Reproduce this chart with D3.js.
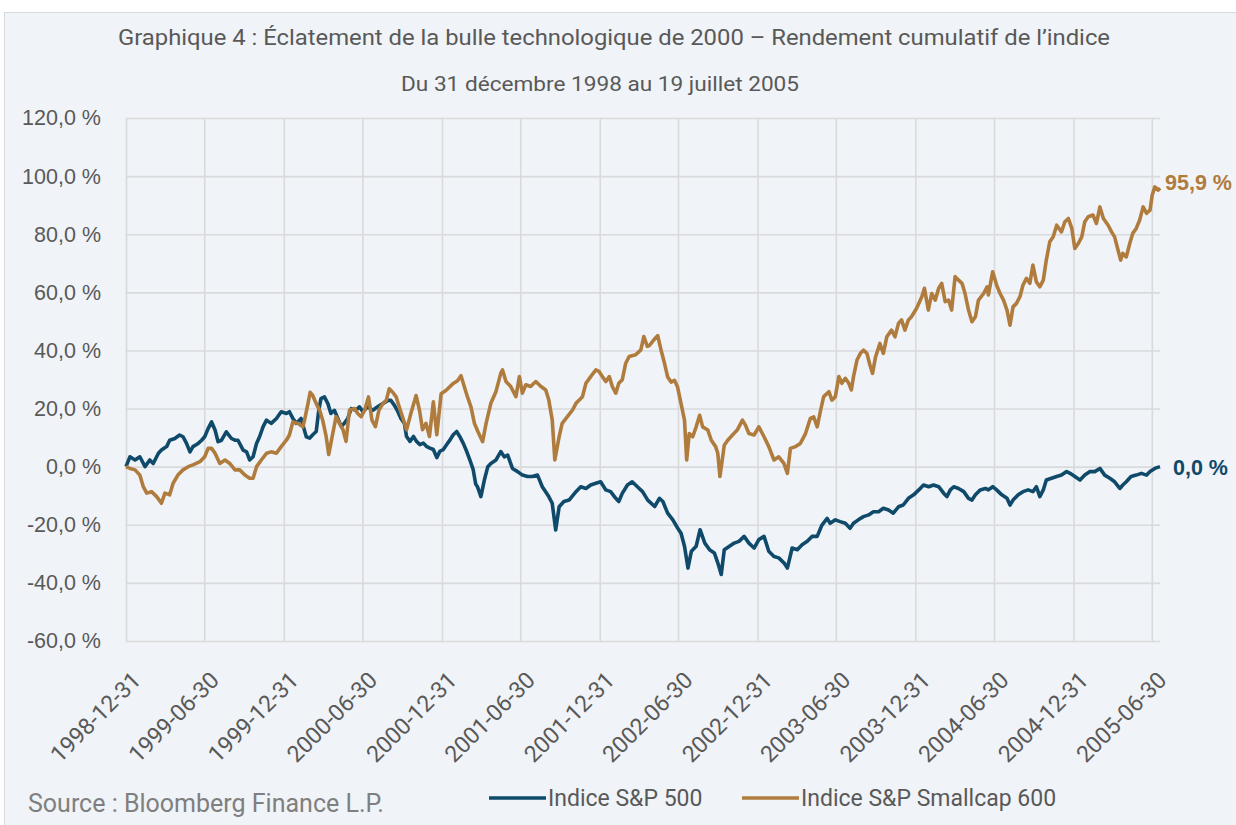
<!DOCTYPE html>
<html>
<head>
<meta charset="utf-8">
<script src="https://cdn.jsdelivr.net/npm/d3@7"></script>
<style>
  body { margin: 0; background: #fff; }
  svg { display: block; }
  text { font-family: Roboto, "Liberation Sans", sans-serif; }
</style>
</head>
<body>
<div id="chart"></div>
<script>
// cumulative return, in %
var spxDates = ["1998-12-31","1999-01-09","1999-01-21","1999-02-01","1999-02-13","1999-02-24","1999-03-04","1999-03-16","1999-03-23","1999-04-04","1999-04-11","1999-04-23","1999-05-04","1999-05-12","1999-05-20","1999-05-28","1999-06-04","1999-06-16","1999-06-24","1999-07-01","1999-07-09","1999-07-17","1999-07-25","1999-08-01","1999-08-09","1999-08-20","1999-09-01","1999-09-09","1999-09-16","1999-09-28","1999-10-06","1999-10-13","1999-10-21","1999-10-29","1999-11-05","1999-11-13","1999-11-21","1999-12-02","1999-12-14","1999-12-25",
"2000-01-06","2000-01-13","2000-01-21","2000-01-29","2000-02-09","2000-02-21","2000-02-29","2000-03-07","2000-03-15","2000-03-21","2000-03-26","2000-04-03","2000-04-11","2000-04-18","2000-04-26","2000-05-04","2000-05-12","2000-05-19","2000-05-27","2000-06-04","2000-06-15","2000-06-23","2000-07-01","2000-07-12","2000-07-24","2000-08-04","2000-08-16","2000-08-28","2000-09-04","2000-09-12","2000-09-20","2000-09-27","2000-10-05","2000-10-10","2000-10-18","2000-10-26","2000-11-02","2000-11-10","2000-11-18","2000-11-25","2000-12-03","2000-12-11","2000-12-19","2000-12-26",
"2001-01-03","2001-01-11","2001-01-19","2001-01-26","2001-02-03","2001-02-10","2001-02-18","2001-02-26","2001-03-05","2001-03-13","2001-03-19","2001-03-23","2001-03-31","2001-04-08","2001-04-16","2001-04-23","2001-05-05","2001-05-16","2001-05-24","2001-06-01","2001-06-12","2001-06-24","2001-07-05","2001-07-17","2001-07-28","2001-08-09","2001-08-20","2001-09-04","2001-09-12","2001-09-20","2001-09-28","2001-10-09","2001-10-21","2001-11-06","2001-11-17","2001-11-29","2001-12-10","2001-12-22",
"2002-01-02","2002-01-14","2002-01-25","2002-02-06","2002-02-13","2002-02-21","2002-03-05","2002-03-16","2002-03-28","2002-04-09","2002-04-21","2002-05-07","2002-05-18","2002-05-26","2002-06-06","2002-06-18","2002-06-29","2002-07-07","2002-07-15","2002-07-23","2002-07-31","2002-08-11","2002-08-20","2002-08-31","2002-09-11","2002-09-22","2002-09-30","2002-10-08","2002-10-15","2002-10-27","2002-11-07","2002-11-18","2002-11-30","2002-12-11","2002-12-23",
"2003-01-03","2003-01-15","2003-01-26","2003-02-07","2003-02-18","2003-03-02","2003-03-10","2003-03-21","2003-04-02","2003-04-13","2003-04-25","2003-05-06","2003-05-18","2003-05-29","2003-06-10","2003-06-17","2003-06-29","2003-07-10","2003-07-22","2003-08-02","2003-08-10","2003-08-21","2003-09-02","2003-09-14","2003-09-25","2003-10-07","2003-10-18","2003-10-30","2003-11-10","2003-11-22","2003-12-03","2003-12-15","2003-12-27",
"2004-01-08","2004-01-19","2004-01-31","2004-02-11","2004-02-23","2004-03-06","2004-03-13","2004-03-21","2004-03-29","2004-04-09","2004-04-21","2004-05-02","2004-05-10","2004-05-18","2004-05-29","2004-06-10","2004-06-17","2004-06-27","2004-07-06","2004-07-18","2004-07-30","2004-08-06","2004-08-13","2004-08-25","2004-09-05","2004-09-17","2004-09-28","2004-10-06","2004-10-14","2004-10-22","2004-10-29","2004-11-10","2004-11-22","2004-12-03","2004-12-15","2004-12-23",
"2005-01-03","2005-01-15","2005-01-26","2005-02-07","2005-02-18","2005-03-02","2005-03-13","2005-03-25","2005-04-05","2005-04-17","2005-04-24","2005-05-02","2005-05-13","2005-05-25","2005-06-06","2005-06-18","2005-06-26","2005-07-07","2005-07-19"];
var spxValues = [0,3.4,2.3,3.4,0,2.3,1.1,4.6,5.7,6.9,9.1,9.7,10.9,10.3,8,5.1,6.9,8,9.1,10.3,13.1,15.4,12.6,8.6,9.1,12,9.7,9.1,9.1,5.7,5.1,2.3,3.4,8,10.3,13.7,16,14.9,16.6,18.9,
18.3,18.9,16.6,14.9,16.6,10.3,9.8,11,12.1,19.4,23.4,24,21.7,18.3,19.4,16.6,13.8,14.9,16.6,20,19.4,20.6,18.9,20.6,19.4,20.6,21.7,22.8,22.8,21.1,18.9,16.6,14.9,10.4,8.7,10.4,8.7,7.6,8.1,7,6.4,5.9,3.1,5.3,
5.9,7.6,9.3,11,12.1,10.4,8.1,5.3,2.5,-0.9,-6,-6.9,-10.3,-4.6,0,1.1,2.3,5.2,3.4,4,-0.6,-1.7,-2.9,-3.4,-3.4,-2.9,-6.9,-10.3,-12.6,-21.8,-13.8,-12,-11.5,-8.6,-6.9,-7.5,-6.3,-5.7,
-5.2,-8,-8.6,-10.9,-12,-9.2,-6.3,-5.2,-6.9,-8.6,-11.5,-13.7,-10.9,-12,-16,-18.3,-21.1,-22.9,-27.4,-34.9,-29.1,-27.4,-21.7,-26.3,-28.6,-29.7,-33.1,-37.1,-28.6,-27.4,-26.3,-25.7,-24,-26.3,-28,
-25.1,-24,-29.1,-30.9,-31.4,-33.1,-34.9,-28,-28.6,-26.9,-25.7,-24,-24,-20.1,-17.8,-19.5,-18.3,-18.9,-19.5,-21.2,-19.5,-18.3,-17.2,-16.6,-15.5,-15.5,-14.3,-14.9,-16,-13.8,-13.2,-10.9,-9.7,
-8,-6.3,-6.9,-6.3,-6.9,-9.2,-10.3,-8,-6.9,-7.5,-8.6,-10.9,-11.5,-9.7,-8,-7.5,-8,-6.9,-8,-9.7,-10.9,-13.2,-11.5,-9.7,-8.6,-8,-8.6,-6.9,-10.3,-8,-4.6,-4,-3.4,-2.9,-1.7,-2.3,
-3.4,-4.6,-2.9,-1.7,-1.7,-0.6,-2.9,-4,-5.2,-7.5,-6.3,-5.2,-3.4,-2.9,-2.3,-2.9,-1.7,-0.6,0];

var smlDates = ["1998-12-31","1999-01-09","1999-01-21","1999-02-01","1999-02-09","1999-02-17","1999-02-28","1999-03-12","1999-03-23","1999-03-31","1999-04-11","1999-04-19","1999-04-30","1999-05-12","1999-05-24","1999-06-04","1999-06-20","1999-07-01","1999-07-09","1999-07-17","1999-07-25","1999-08-05","1999-08-17","1999-08-28","1999-09-09","1999-09-20","1999-10-02","1999-10-13","1999-10-21","1999-10-29","1999-11-09","1999-11-21","1999-12-02","1999-12-14","1999-12-25",
"2000-01-06","2000-01-13","2000-01-21","2000-02-02","2000-02-13","2000-02-17","2000-02-25","2000-03-01","2000-03-07","2000-03-15","2000-03-23","2000-03-30","2000-04-07","2000-04-13","2000-04-21","2000-04-30","2000-05-08","2000-05-16","2000-05-23","2000-05-31","2000-06-12","2000-06-19","2000-06-27","2000-07-05","2000-07-14","2000-07-22","2000-07-30","2000-08-07","2000-08-16","2000-08-24","2000-08-31","2000-09-08","2000-09-16","2000-09-23","2000-10-03","2000-10-10","2000-10-20","2000-11-01","2000-11-09","2000-11-16","2000-11-24","2000-12-02","2000-12-11","2000-12-19","2000-12-29",
"2001-01-09","2001-01-25","2001-02-05","2001-02-13","2001-02-21","2001-02-28","2001-03-08","2001-03-16","2001-03-24","2001-04-04","2001-04-12","2001-04-23","2001-05-05","2001-05-16","2001-05-20","2001-05-28","2001-06-08","2001-06-20","2001-06-28","2001-07-05","2001-07-13","2001-07-24","2001-08-05","2001-08-17","2001-08-28","2001-09-04","2001-09-12","2001-09-18","2001-09-28","2001-10-05","2001-10-17","2001-10-29","2001-11-06","2001-11-21","2001-11-29","2001-12-10","2001-12-22","2001-12-29",
"2002-01-06","2002-01-14","2002-01-22","2002-01-29","2002-02-06","2002-02-13","2002-02-21","2002-03-01","2002-03-09","2002-03-24","2002-04-05","2002-04-12","2002-04-20","2002-04-25","2002-05-07","2002-05-14","2002-05-22","2002-05-30","2002-06-06","2002-06-14","2002-06-22","2002-06-29","2002-07-07","2002-07-15","2002-07-20","2002-07-26","2002-08-03","2002-08-11","2002-08-19","2002-08-26","2002-09-07","2002-09-15","2002-09-25","2002-09-30","2002-10-05","2002-10-15","2002-10-23","2002-11-03","2002-11-14","2002-11-26","2002-12-03","2002-12-11","2002-12-23",
"2003-01-03","2003-01-15","2003-01-26","2003-02-07","2003-02-18","2003-03-02","2003-03-10","2003-03-17","2003-03-29","2003-04-09","2003-04-21","2003-05-02","2003-05-10","2003-05-18","2003-05-26","2003-06-02","2003-06-14","2003-06-21","2003-06-29","2003-07-07","2003-07-14","2003-07-22","2003-07-30","2003-08-05","2003-08-10","2003-08-18","2003-08-26","2003-09-02","2003-09-10","2003-09-17","2003-09-23","2003-09-30","2003-10-10","2003-10-18","2003-10-26","2003-11-06","2003-11-14","2003-11-22","2003-11-29","2003-12-07","2003-12-15","2003-12-22",
"2004-01-03","2004-01-15","2004-01-21","2004-01-30","2004-02-07","2004-02-15","2004-02-23","2004-03-01","2004-03-09","2004-03-17","2004-03-24","2004-04-01","2004-04-09","2004-04-17","2004-04-24","2004-05-02","2004-05-10","2004-05-18","2004-05-25","2004-06-06","2004-06-14","2004-06-17","2004-06-27","2004-07-06","2004-07-14","2004-07-22","2004-07-30","2004-08-06","2004-08-13","2004-08-21","2004-08-29","2004-09-05","2004-09-13","2004-09-21","2004-09-28","2004-10-06","2004-10-14","2004-10-22","2004-10-29","2004-11-06","2004-11-14","2004-11-22","2004-12-03","2004-12-11","2004-12-19","2004-12-27",
"2005-01-03","2005-01-11","2005-01-19","2005-01-26","2005-02-03","2005-02-14","2005-02-22","2005-03-02","2005-03-10","2005-03-21","2005-03-29","2005-04-05","2005-04-13","2005-04-19","2005-04-24","2005-05-02","2005-05-10","2005-05-17","2005-05-25","2005-06-02","2005-06-10","2005-06-18","2005-06-26","2005-07-01","2005-07-07","2005-07-15","2005-07-19"];
var smlValues = [0,-0.6,-1.1,-2.9,-6.9,-9.1,-8.6,-10.3,-12.6,-9.1,-9.7,-5.7,-2.9,-1.1,0,0.6,1.7,3.4,6.3,6.3,4.6,1.1,2.3,1.1,-1.1,-1.1,-2.9,-4,-4,0,2.3,4.6,5.1,4.6,6.9,
9.1,10.9,15.4,14.9,13.7,16,21.7,25.6,24.5,21.7,19.4,16,10.4,4.2,10.4,17.2,14.9,12.7,8.7,19.4,20,18.3,17.2,19.4,24,16,13.8,19.4,21.7,22.8,26.8,25.6,24,20.6,16,12.7,18.3,24.5,19.4,12.7,14.9,10.4,22.3,11,25.1,
26.2,28.5,29.6,31.3,27.3,24,20.6,14.9,12.1,8.6,14.9,21.8,25.9,32.2,33.3,29.3,27.6,24.1,31,25.3,28.2,27.6,29.3,27.6,26.4,23,16.1,2.3,10.3,14.9,17.2,19.5,21.8,24.1,28.7,31,33.3,32.8,
31,29.3,31,27.6,25.3,28.7,29.9,35.6,37.9,38.5,40.2,44.8,41.4,41.7,44,45.1,40,35.4,30.9,29.1,29.7,27.4,21.7,16,2.3,11.4,10.3,13.7,17.7,13.7,12.6,9.1,6.9,4.6,-3.4,7.4,9.1,10.9,12.6,16,14.3,11.4,10.9,
13.7,10.3,6.9,2.3,3.4,1.1,-2.3,6.3,6.9,8,11.4,16.6,17.1,13.7,19.5,24.1,25.8,22.9,24.1,31,28.7,30.4,28.7,26.4,31,36.7,39,40.1,39,35,32.1,37.8,42.4,39,44.7,47,44.7,49.3,50.5,47,50.5,51.6,
54.5,58.5,61.4,53.9,59.6,57.3,61.4,63.1,56.8,57.3,53.9,65.4,64.2,63.1,59.6,53.9,49.9,51.6,57.3,59.6,61.9,59.1,67.1,62.5,59.6,57.3,53.9,48.7,55,56.2,58.5,62.5,64.8,63.1,69.4,63.6,61.9,64.2,71.1,77.4,79.1,83.1,80.8,84.3,85.4,82,
75.1,76.8,79.1,84.3,86,86.6,83.7,89.4,85.4,83.1,80.8,79.1,74.5,71.1,73.4,72.2,76.8,80.3,82,84.9,89.4,87.2,88.3,93.5,96.3,95.2,95.9];

var tickDates = ["1998-12-31","1999-06-30","1999-12-31","2000-06-30","2000-12-31","2001-06-30","2001-12-31",
                 "2002-06-30","2002-12-31","2003-06-30","2003-12-31","2004-06-30","2004-12-31","2005-06-30"];
var yTicks = [-60,-40,-20,0,20,40,60,80,100,120];
var seriesNames = ["Indice S&P 500","Indice S&P Smallcap 600"];
var seriesColors = ["#0f4a6b","#b07c3d"];
var endLabels = ["0,0 %","95,9 %"];

var width = 1236, height = 825;
var parse = d3.timeParse("%Y-%m-%d");

var svg = d3.select("#chart").append("svg")
  .attr("width", width)
  .attr("height", height);

// panel
svg.append("rect")
  .attr("x", 4.5).attr("y", 12.5)
  .attr("width", 1245).attr("height", 830)
  .attr("fill", "#f0f3f7")
  .attr("stroke", "#d6d9dd");

var x = d3.scaleTime()
  .domain([parse("1998-12-31"), parse("2005-07-19")])
  .range([126, 1160]);
var y = d3.scaleLinear()
  .domain([-60, 120])
  .range([641, 118]);

// y axis + horizontal grid
var yAxis = svg.append("g")
  .attr("transform", "translate(126,0)")
  .call(d3.axisLeft(y).tickValues(yTicks)
    .tickSize(-(1160 - 126)).tickPadding(25)
    .tickFormat(function(d){ return d.toFixed(1).replace(".", ",") + " %"; }));
yAxis.select(".domain").remove();
yAxis.selectAll("line").attr("stroke", "#d9dadc").attr("stroke-width", 1.6);
yAxis.selectAll("text").attr("fill", "#595959").style("font-size", "21.5px")
  .style("font-family", "'Liberation Sans', Arial, sans-serif");

// x axis + vertical grid
var xAxis = svg.append("g")
  .attr("transform", "translate(0,641)")
  .call(d3.axisBottom(x).tickValues(tickDates.map(parse))
    .tickSize(-(641 - 118))
    .tickFormat(d3.timeFormat("%Y-%m-%d")));
xAxis.select(".domain").remove();
xAxis.selectAll("line").attr("stroke", "#d9dadc").attr("stroke-width", 1.6);
xAxis.selectAll("text")
  .attr("fill", "#595959").style("font-size", "23px")
  .attr("text-anchor", "end")
  .attr("y", 0).attr("dy", "0.35em")
  .attr("transform", "translate(10,35) rotate(-45)");

// lines
var line = d3.line()
  .x(function(d){ return x(d.date); })
  .y(function(d){ return y(d.value); });

var series = [
  { dates: spxDates, values: spxValues },
  { dates: smlDates, values: smlValues }
].map(function(s, i){
  return {
    name: seriesNames[i], color: seriesColors[i], label: endLabels[i],
    points: s.dates.map(function(d, j){ return { date: parse(d), value: s.values[j] }; })
  };
});

svg.selectAll(".series")
  .data(series)
  .enter()
  .append("path")
    .attr("class", "series")
    .attr("d", function(d){ return line(d.points); })
    .attr("fill", "none")
    .attr("stroke", function(d){ return d.color; })
    .attr("stroke-width", 3.6)
    .attr("stroke-linejoin", "round");

// end value labels
svg.selectAll(".endlabel")
  .data(series)
  .enter()
  .append("text")
    .attr("class", "endlabel")
    .attr("x", function(d, i){ return x(d.points[d.points.length - 1].date) + (i == 0 ? 13 : 5); })
    .attr("y", function(d, i){ return y(d.points[d.points.length - 1].value) + (i == 0 ? 1 : -6); })
    .attr("dy", "0.35em")
    .attr("fill", function(d){ return d.color; })
    .style("font-size", "21.5px")
    .style("font-weight", "bold")
    .style("font-family", "'Liberation Sans', Arial, sans-serif")
    .text(function(d){ return d.label; });

// titles
svg.append("text")
  .attr("x", 118).attr("y", 45)
  .attr("fill", "#595959")
  .style("font-size", "22px")
  .attr("textLength", 992)
  .attr("lengthAdjust", "spacingAndGlyphs")
  .text("Graphique 4 : Éclatement de la bulle technologique de 2000 – Rendement cumulatif de l’indice");
svg.append("text")
  .attr("x", 401).attr("y", 91)
  .attr("fill", "#595959")
  .style("font-size", "19.5px")
  .attr("textLength", 398)
  .attr("lengthAdjust", "spacingAndGlyphs")
  .text("Du 31 décembre 1998 au 19 juillet 2005");

// legend
var legendX = [489, 742];
var legend = svg.selectAll(".legend")
  .data(series)
  .enter()
  .append("g")
    .attr("class", "legend")
    .attr("transform", function(d, i){ return "translate(" + legendX[i] + ",798)"; });
legend.append("line")
  .attr("x1", 0).attr("x2", 57)
  .attr("stroke", function(d){ return d.color; })
  .attr("stroke-width", 3.6);
legend.append("text")
  .attr("x", 59).attr("dy", "0.35em")
  .attr("fill", "#595959")
  .style("font-size", "23px")
  .text(function(d){ return d.name; });

// source
svg.append("text")
  .attr("x", 28).attr("y", 812)
  .attr("fill", "#7f7f7f")
  .style("font-size", "25px")
  .text("Source : Bloomberg Finance L.P.");
</script>
</body>
</html>
